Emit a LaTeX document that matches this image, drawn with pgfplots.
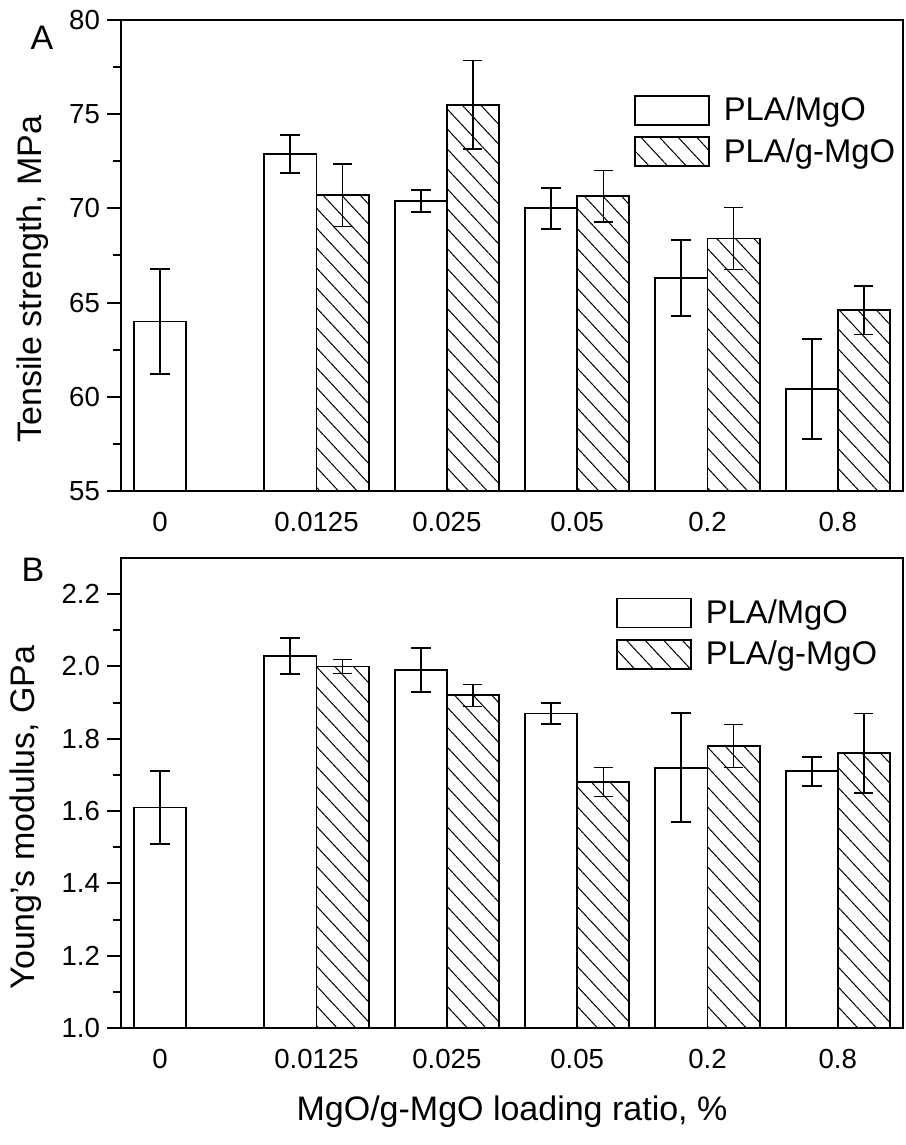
\documentclass[border=0pt]{standalone}
\usepackage{fontspec}
\setmainfont{Liberation Sans}
\usepackage{pgfplots}
\pgfplotsset{compat=1.18}
\usetikzlibrary{patterns.meta}

\pgfplotsset{
  myaxis/.style={
    scale only axis, width=391pt,
    xmin=-0.5, xmax=5.5,
    xtick={-0.2,1,2,3,4,5},
    xticklabels={0,0.0125,0.025,0.05,0.2,0.8},
    x tick style={draw=none},
    ytick pos=left,
    tick align=outside,
    major tick length=7pt, minor tick length=4pt,
    minor y tick num=1,
    axis line style={line width=1pt},
    every tick/.append style={line width=1pt, black},
    tick label style={font=\fontsize{13.8}{16}\selectfont},
    label style={font=\fontsize{17}{20}\selectfont},
    /pgf/number format/assume math mode=true,
    clip mode=individual,
    legend image code/.code={\draw[#1] (0pt,-7.25pt) rectangle (37pt,7.25pt);},
    legend style={draw=none, fill=none, inner sep=0pt, outer sep=0pt, anchor=north west,
      font=\fontsize{16.4}{19}\selectfont, row sep=3.3pt,
      /tikz/every odd column/.append style={column sep=5pt}},
    legend cell align=left,
  },
  whitebar/.style={ybar, bar width=0.4, bar shift=0pt, draw=black, fill=white, line width=0.9pt,
    error bars/.cd, y dir=both, y explicit,
    error bar style={line width=1pt, black},
    error mark options={rotate=90, mark size=5pt, line width=1pt, black}},
  hatchbar/.style={ybar, bar width=0.4, bar shift=0pt, draw=black, line width=0.9pt,
    pattern={Lines[angle=-47, distance=6.8pt, line width=0.5pt]}, pattern color=black,
    error bars/.cd, y dir=both, y explicit,
    error bar style={line width=0.65pt, black},
    error mark options={rotate=90, mark size=4.75pt, line width=0.65pt, black}},
}

\begin{document}
\begin{tikzpicture}
\begin{axis}[myaxis, name=top, at={(0,0)}, anchor=south west,
  height=235.5pt,
  ymin=55, ymax=80, ytick={55,60,...,80},
  ylabel={Tensile strength, MPa},
  ylabel style={at={(axis description cs:-0.113,0.45)}, anchor=center},
  legend style={at={(axis description cs:0.656,0.845)}},
]
\addplot[whitebar] coordinates {
  (-0.2,64.0) +- (0,2.8)
  (0.8,72.9) +- (0,1.0)
  (1.8,70.4) +- (0,0.6)
  (2.8,70.0) +- (0,1.1)
  (3.8,66.3) +- (0,2.0)
  (4.8,60.4) +- (0,2.65)
};
\addlegendentry{PLA/MgO}
\addplot[hatchbar] coordinates {
  (1.2,70.7) +- (0,1.65)
  (2.2,75.5) +- (0,2.35)
  (3.2,70.65) +- (0,1.37)
  (4.2,68.4) +- (0,1.66)
  (5.2,64.6) +- (0,1.28)
};
\addlegendentry{PLA/g-MgO}
\node[font=\fontsize{17}{20}\selectfont] at (axis description cs:-0.101,0.962) {A};
\end{axis}

\begin{axis}[myaxis, name=bottom, at={(0,-33.5pt)}, anchor=north west,
  height=235pt,
  ymin=1.0, ymax=2.3, ytick={1.0,1.2,...,2.2},
  yticklabel style={/pgf/number format/.cd, fixed, fixed zerofill, precision=1},
  ylabel={Young's modulus, GPa},
  ylabel style={at={(axis description cs:-0.122,0.448)}, anchor=center},
  xlabel={MgO/g-MgO loading ratio, \%},
  xlabel style={at={(axis description cs:0.5,-0.178)}, anchor=center},
  legend style={at={(axis description cs:0.633,0.92)}},
]
\addplot[whitebar] coordinates {
  (-0.2,1.61) +- (0,0.10)
  (0.8,2.03) +- (0,0.05)
  (1.8,1.99) +- (0,0.06)
  (2.8,1.87) +- (0,0.03)
  (3.8,1.72) +- (0,0.15)
  (4.8,1.71) +- (0,0.04)
};
\addlegendentry{PLA/MgO}
\addplot[hatchbar] coordinates {
  (1.2,2.00) +- (0,0.02)
  (2.2,1.92) +- (0,0.03)
  (3.2,1.68) +- (0,0.04)
  (4.2,1.78) +- (0,0.06)
  (5.2,1.76) +- (0,0.11)
};
\addlegendentry{PLA/g-MgO}
\node[font=\fontsize{17}{20}\selectfont] at (axis description cs:-0.1125,0.974) {B};
\end{axis}
\path (-60.5pt,245.5pt) rectangle (392pt,-327pt);
\end{tikzpicture}
\end{document}
